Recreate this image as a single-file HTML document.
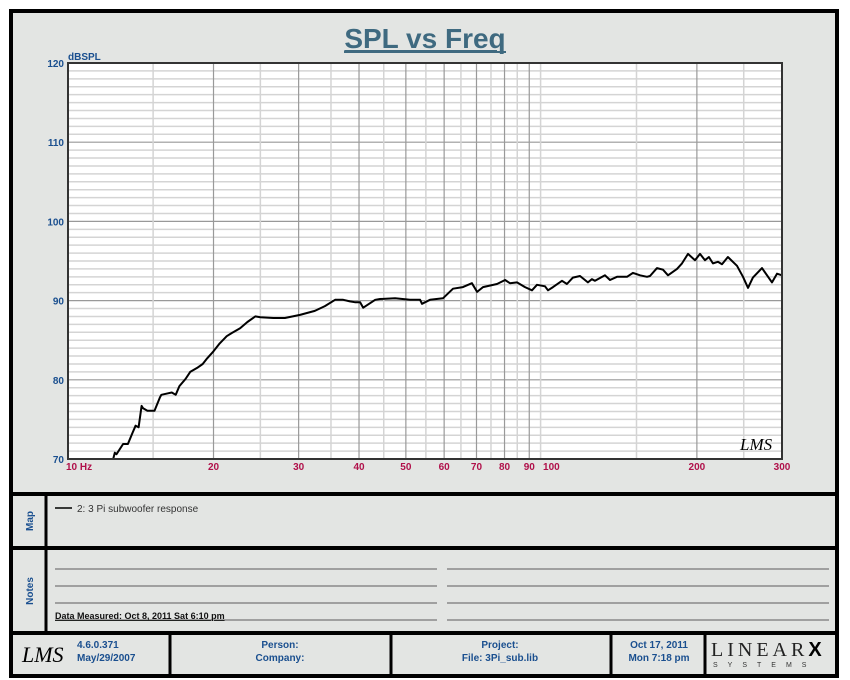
<!DOCTYPE html>
<html><head><meta charset="utf-8"><style>
body{margin:0;background:#fff;}
svg{display:block;font-family:"Liberation Sans",Arial,sans-serif;}
</style></head><body>
<svg id="chart" width="850" height="680" viewBox="0 0 850 680" xmlns="http://www.w3.org/2000/svg">
<rect x="11" y="11" width="826" height="665" fill="#e3e5e3" stroke="#000" stroke-width="4"/>
<text x="425" y="48" text-anchor="middle" font-size="28" font-weight="bold" fill="#3f6a80" text-decoration="underline">SPL vs Freq</text>
<line x1="344" y1="52" x2="506" y2="52" stroke="#3f6a80" stroke-width="2"/>
<text x="68" y="60" font-size="10" font-weight="bold" fill="#1a4f8f">dBSPL</text>
<rect x="68" y="63" width="714" height="396" fill="#fff"/>
<g id="grid"></g>
<g id="ticks"></g>
<path id="curve" fill="none" stroke="#000" stroke-width="2" stroke-linejoin="round"/>
<rect x="68" y="63" width="714" height="396" fill="none" stroke="#333" stroke-width="2"/>
<text x="740" y="450" font-size="17" font-style="italic" font-family="Liberation Serif,serif" fill="#000">LMS</text>

<line x1="11" y1="494" x2="837" y2="494" stroke="#000" stroke-width="4"/>
<line x1="11" y1="548" x2="837" y2="548" stroke="#000" stroke-width="4"/>
<line x1="11" y1="633" x2="837" y2="633" stroke="#000" stroke-width="4"/>
<line x1="46" y1="494" x2="46" y2="633" stroke="#000" stroke-width="3"/>
<text transform="translate(33,521) rotate(-90)" text-anchor="middle" font-size="10" font-weight="bold" fill="#1a4f8f">Map</text>
<text transform="translate(33,591) rotate(-90)" text-anchor="middle" font-size="10" font-weight="bold" fill="#1a4f8f">Notes</text>
<g>
<line x1="55" y1="508" x2="72" y2="508" stroke="#000" stroke-width="1.5"/>
<text x="77" y="512" font-size="10" fill="#333">2: 3 Pi subwoofer response</text>
</g>
<g stroke="#777" stroke-width="1.2">
<line x1="55" y1="569" x2="437" y2="569"/><line x1="447" y1="569" x2="829" y2="569"/>
<line x1="55" y1="586" x2="437" y2="586"/><line x1="447" y1="586" x2="829" y2="586"/>
<line x1="55" y1="603" x2="437" y2="603"/><line x1="447" y1="603" x2="829" y2="603"/>
<line x1="55" y1="620" x2="437" y2="620"/><line x1="447" y1="620" x2="829" y2="620"/>
</g>
<text x="55" y="619" font-size="9" font-weight="bold" fill="#111" text-decoration="underline">Data Measured: Oct  8, 2011  Sat  6:10 pm</text>

<g stroke="#000" stroke-width="3">
<line x1="170" y1="633" x2="170" y2="676"/><line x1="391" y1="633" x2="391" y2="676"/>
<line x1="611" y1="633" x2="611" y2="676"/><line x1="705" y1="633" x2="705" y2="676"/>
</g>
<text x="22" y="662" font-size="22" font-style="italic" font-family="Liberation Serif,serif" fill="#000">LMS</text>
<g font-size="10" font-weight="bold" fill="#1a4f8f">
<text x="77" y="648">4.6.0.371</text>
<text x="77" y="661">May/29/2007</text>
<text x="280" y="648" text-anchor="middle">Person:</text>
<text x="280" y="661" text-anchor="middle">Company:</text>
<text x="500" y="648" text-anchor="middle">Project:</text>
<text x="500" y="661" text-anchor="middle">File: 3Pi_sub.lib</text>
<text x="659" y="648" text-anchor="middle">Oct 17, 2011</text>
<text x="659" y="661" text-anchor="middle">Mon  7:18 pm</text>
</g>
<text x="711" y="656" font-size="20" font-family="Liberation Serif,serif" letter-spacing="4" fill="#222">LINEAR<tspan font-family="Liberation Sans,sans-serif" font-weight="bold" fill="#000">X</tspan></text>
<text x="713" y="667" font-size="7" letter-spacing="10" fill="#333">SYSTEMS</text>
</svg>
<script>
const freqs=[12.4,12.5,12.6,13.0,13.3,13.6,13.8,14.0,14.2,14.3,14.6,15.1,15.5,15.6,16.1,16.4,16.7,17.0,17.5,17.9,18.5,19.0,19.4,20.0,20.6,21.3,21.8,22.7,23.5,24.4,25.0,26.6,28.1,30.2,32.4,34.0,35.7,37.1,38.3,39.2,40.2,40.8,43.2,44.2,47.5,51.0,53.5,54.0,56.1,59.7,62.6,65.6,68.5,70.2,72.2,77.2,80.2,82.1,84.9,88.2,91.2,93.4,97.0,98.4,100.8,105.2,107.7,110.8,114.6,119.0,121.3,123.1,129.1,132.2,136.7,143.4,147.5,152.5,157.7,160.0,165.4,170.2,174.3,181.9,186.3,191.7,198.2,203.0,207.9,211.8,215.9,221.1,225.4,231.9,242.1,249.1,255.1,261.2,272.7,286.0,292.9,300];
const spl=[70.0,70.8,70.6,71.9,71.9,73.3,74.2,74.0,76.7,76.4,76.1,76.1,77.8,78.1,78.3,78.4,78.1,79.2,80.1,81.0,81.5,82.0,82.7,83.6,84.6,85.5,85.9,86.5,87.3,88.0,87.9,87.8,87.8,88.2,88.7,89.3,90.1,90.1,89.9,89.8,89.8,89.1,90.1,90.2,90.3,90.1,90.1,89.6,90.1,90.3,91.5,91.7,92.2,91.1,91.7,92.1,92.6,92.2,92.3,91.7,91.3,92.0,91.8,91.3,91.7,92.5,92.1,92.9,93.1,92.3,92.7,92.5,93.2,92.6,93.0,93.0,93.5,93.2,93.0,93.1,94.1,93.9,93.2,94.0,94.7,95.9,95.1,95.9,95.1,95.5,94.7,94.9,94.6,95.5,94.4,93.0,91.6,92.9,94.1,92.3,93.4,93.2];
const xTicks=[10,20,30,40,50,60,70,80,90,100,200,300];
const xTickLabels=["10  Hz","20","30","40","50","60","70","80","90","100","200","300"];
const yTicks=[70,80,90,100,110,120];
const fMin=10,fMax=300,dMin=70,dMax=120;
const X0=68,X1=782,Y0=459,Y1=63;
function xs(f){return X0+(Math.log10(f/fMin)/Math.log10(fMax/fMin))*(X1-X0);}
function ys(d){return Y0-(d-dMin)/(dMax-dMin)*(Y0-Y1);}
const NS="http://www.w3.org/2000/svg";
const grid=document.getElementById('grid'),ticks=document.getElementById('ticks');
function ln(x1,y1,x2,y2,c,w){const l=document.createElementNS(NS,'line');l.setAttribute('x1',x1);l.setAttribute('y1',y1);l.setAttribute('x2',x2);l.setAttribute('y2',y2);l.setAttribute('stroke',c);l.setAttribute('stroke-width',w);grid.appendChild(l);return l;}
for(let d=dMin+1;d<dMax;d++){const l=ln(X0,ys(d),X1,ys(d),d%10==0?'#999':'#d4d4d4',d%10==0?1.2:1.5);

}
const vgrid=[];for(let f=15;f<100;f+=5)vgrid.push(f);vgrid.push(150,200,250);
vgrid.forEach(f=>{const major=f%10==0&&f<=100||f==200;const l=ln(xs(f),Y1,xs(f),Y0,major?'#999':'#d4d4d4',major?1.2:1.5);

});
function tx(x,y,s,anchor,col){const t=document.createElementNS(NS,'text');t.setAttribute('x',x);t.setAttribute('y',y);t.setAttribute('text-anchor',anchor);t.setAttribute('font-size','10');t.setAttribute('font-weight','bold');t.setAttribute('fill',col);t.textContent=s;ticks.appendChild(t);return t;}
yTicks.forEach(d=>{const t=tx(64,ys(d)+4,String(d),'end','#1a4f8f');

});
xTicks.forEach((f,i)=>{const t=tx(f==10?66:xs(f),470,xTickLabels[i],f==10?'start':'middle','#b0104a');

});
let d='';freqs.forEach((f,i)=>{d+=(i?'L':'M')+xs(f).toFixed(1)+','+ys(spl[i]).toFixed(1);});
document.getElementById('curve').setAttribute('d',d);
</script>
</body></html>
